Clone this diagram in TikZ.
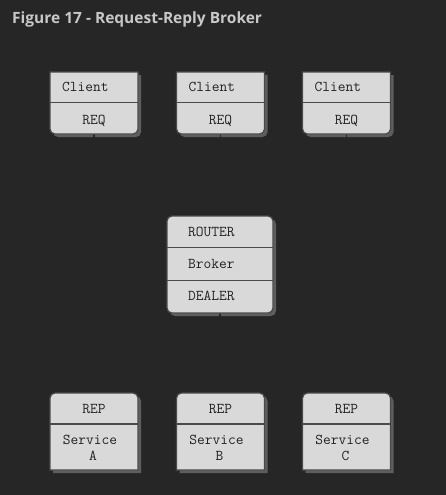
\documentclass[tikz,border=0pt]{standalone}
\usepackage{fontspec}
\newfontfamily\titlefont{Open Sans}
\definecolor{bg}{HTML}{262626}
\definecolor{boxc}{HTML}{D9D9D9}
\definecolor{edgec}{HTML}{4A4A4A}
\definecolor{shadc}{HTML}{5E5E5E}
\definecolor{txtc}{HTML}{222222}
\definecolor{titlec}{HTML}{C8C8C8}
\newcommand\lbltt{\ttfamily\fontsize{15}{17}\selectfont}
\tikzset{
  boxfill/.style={fill=boxc, draw=edgec, line width=1.2pt},
  divider/.style={draw=edgec, line width=1.2pt},
  shadowfill/.style={fill=shadc},
  lbl/.style={font=\lbltt, text=txtc, inner sep=0pt},
  conn/.style={draw=bg, line width=1.2pt},
  clientbox/.pic={
    \fill[shadowfill] (3,3) -- (91,3) -- (91,60) arc(0:90:5) -- (8,65) arc(90:180:5) -- cycle;
  },
  clientfront/.pic={
    \draw[boxfill] (0,0) -- (88,0) -- (88,57) arc(0:90:5) -- (5,62) arc(90:180:5) -- cycle;
    \draw[divider] (0,30.5) -- (88,30.5);
  },
  servicebox/.pic={
    \fill[shadowfill] (3,8) arc(180:270:5) -- (86,3) arc(270:360:5) -- (91,80) -- (3,80) -- cycle;
  },
  servicefront/.pic={
    \draw[boxfill] (0,5) arc(180:270:5) -- (83,0) arc(270:360:5) -- (88,77) -- (0,77) -- cycle;
    \draw[divider] (0,31) -- (88,31);
  },
}
\begin{document}
\begin{tikzpicture}[x=1pt,y=-1pt]
\useasboundingbox (0,0) rectangle (446,495);
\fill[bg] (0,0) rectangle (446,495);
\node[anchor=base west, inner sep=0pt, font=\titlefont\bfseries\fontsize{15.5}{18}\selectfont, text=titlec] (title) at (12,23.5) {Figure 17 - Request-Reply Broker};

% shadows
\foreach \L in {50,176.5,302.5} {
  \pic at (\L,72) {clientbox};
  \pic at (\L,393) {servicebox};
}
\fill[shadowfill] (170,224) arc(180:270:5) -- (271,219) arc(270:360:5) -- (276,311) arc(0:90:5) -- (175,316) arc(90:180:5) -- cycle;

% connector anchors
\coordinate (btop) at (220,216);
\coordinate (bbot) at (220,313);
\foreach \L/\n in {50/a,176.5/b,302.5/c} {
  \coordinate (cbot\n) at (\L+44,134);
  \coordinate (stop\n) at (\L+44,393);
}
\foreach \n in {a,b,c} {
  \draw[conn] (cbot\n) -- ++(0,40) -| (btop);
  \draw[conn] (bbot) -- ++(0,40) -| (stop\n);
}

% boxes
\foreach \L in {50,176.5,302.5} {
  \pic at (\L,72) {clientfront};
  \pic at (\L,393) {servicefront};
}
\draw[boxfill] (167,221) arc(180:270:5) -- (268,216) arc(270:360:5) -- (273,308) arc(0:90:5) -- (172,313) arc(90:180:5) -- cycle;
\draw[divider] (167,247.5) -- (273,247.5);
\draw[divider] (167,280.5) -- (273,280.5);

% labels
\foreach \L/\n/\s in {50/a/A,176.5/b/B,302.5/c/C} {
  \node[lbl, anchor=base west] (client\n) at (\L+12,92) {Client};
  \node[lbl, anchor=base] (req\n) at (\L+44,124) {REQ};
  \node[lbl, anchor=base] (rep\n) at (\L+44,413) {REP};
  \node[lbl, anchor=base] (svc\n) at (\L+40,444) {Service};
  \node[lbl, anchor=base] (let\n) at (\L+43,460) {\s};
}
\node[lbl, anchor=base west] (router) at (188,236) {ROUTER};
\node[lbl, anchor=base west] (broker) at (188,268) {Broker};
\node[lbl, anchor=base west] (dealer) at (188,300) {DEALER};
\end{tikzpicture}
\end{document}
